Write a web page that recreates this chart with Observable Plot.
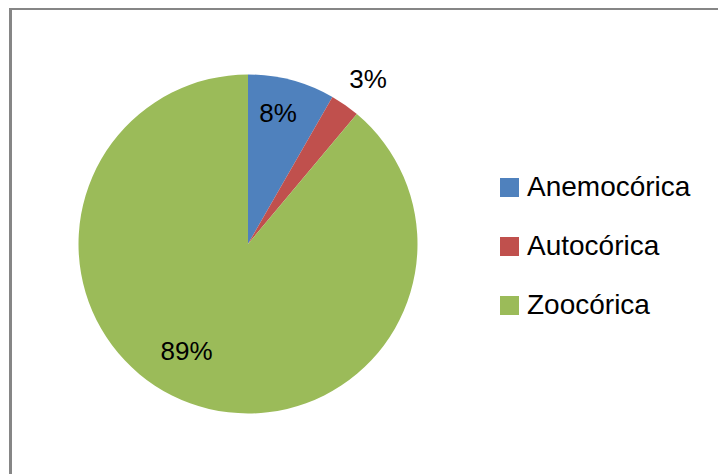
<!DOCTYPE html>
<html><head><meta charset="utf-8">
<script src="https://cdn.jsdelivr.net/npm/d3@7"></script>
<script src="https://cdn.jsdelivr.net/npm/@observablehq/plot@0.6"></script>
<style>
body{margin:0;background:#fff;}
#wrap{position:relative;width:718px;height:474px;overflow:hidden;font-family:"Liberation Sans",Arial,sans-serif;background:#fff;}
#frame{position:absolute;left:9px;top:8px;width:800px;height:600px;border-left:3px solid #868686;border-top:2px solid #868686;box-sizing:border-box;}
#chart{position:absolute;left:0;top:0;}
#legend{position:absolute;left:500px;top:177px;}
.row{display:flex;align-items:center;height:20px;margin-bottom:39px;}
.sw{width:19px;height:19px;margin-right:8px;flex:none;}
.lab{font-size:28px;line-height:20px;color:#000;white-space:nowrap;}
</style></head><body>
<div id="wrap"><div id="frame"></div><div id="chart"></div><div id="legend"></div></div>
<script>
// Data
const categories = ["Anemocórica", "Autocórica", "Zoocórica"];
const values = [8.3, 2.8, 88.9];
const colors = ["#4F81BD", "#C0504D", "#9BBB59"];

// Layout (label placement relative to slice mid-angle)
const labelPlacement = [{r: 0.79, da: -2.2}, {r: 1.2, da: 1.1}, {r: 0.73, da: 10.1}];

const total = d3.sum(values);
const arcs = d3.pie().sort(null).value(d => d)(values);
const slices = categories.map((c, i) => ({
  category: c,
  value: values[i],
  startAngle: arcs[i].startAngle,
  endAngle: arcs[i].endAngle,
  label: Math.round(values[i] / total * 100) + "%"
}));
const labelPos = slices.map((s, i) => {
  const a = (s.startAngle + s.endAngle) / 2 + labelPlacement[i].da * Math.PI / 180;
  const r = labelPlacement[i].r;
  return {...s, lx: r * Math.sin(a), ly: r * Math.cos(a)};
});

const W = 718, H = 474;
const chart = Plot.plot({
  width: W, height: H,
  marginLeft: 78.5, marginRight: 300.5, marginTop: 74.5, marginBottom: 60.5,
  x: {domain: [-1, 1], axis: null},
  y: {domain: [-1, 1], axis: null},
  color: {domain: categories, range: colors},
  style: {background: "transparent", fontFamily: "'Liberation Sans', Arial, sans-serif", overflow: "visible"},
  marks: [
    Plot.dot(slices, {
      x: () => 0, y: () => 0, fill: "category",
      render: (index, scales, vals, dimensions, context) => {
        const cx = scales.x(0), cy = scales.y(0);
        const r = scales.x(1) - scales.x(0);
        const arc = d3.arc().innerRadius(0).outerRadius(r);
        const g = d3.create("svg:g");
        for (const i of index) {
          g.append("path")
            .attr("transform", `translate(${cx},${cy})`)
            .attr("d", arc(slices[i]))
            .attr("fill", vals.fill[i]);
        }
        return g.node();
      }
    }),
    Plot.text(labelPos, {x: "lx", y: "ly", text: "label", fontSize: 26, fill: "#000"})
  ]
});
document.getElementById("chart").appendChild(chart);

const color = chart.scale("color");
const legend = document.getElementById("legend");
categories.forEach(c => {
  const row = document.createElement("div");
  row.className = "row";
  const sw = document.createElement("div");
  sw.className = "sw";
  sw.style.background = color.apply(c);
  const lab = document.createElement("span");
  lab.className = "lab";
  lab.textContent = c;
  row.appendChild(sw); row.appendChild(lab);
  legend.appendChild(row);
});
</script>
</body></html>
